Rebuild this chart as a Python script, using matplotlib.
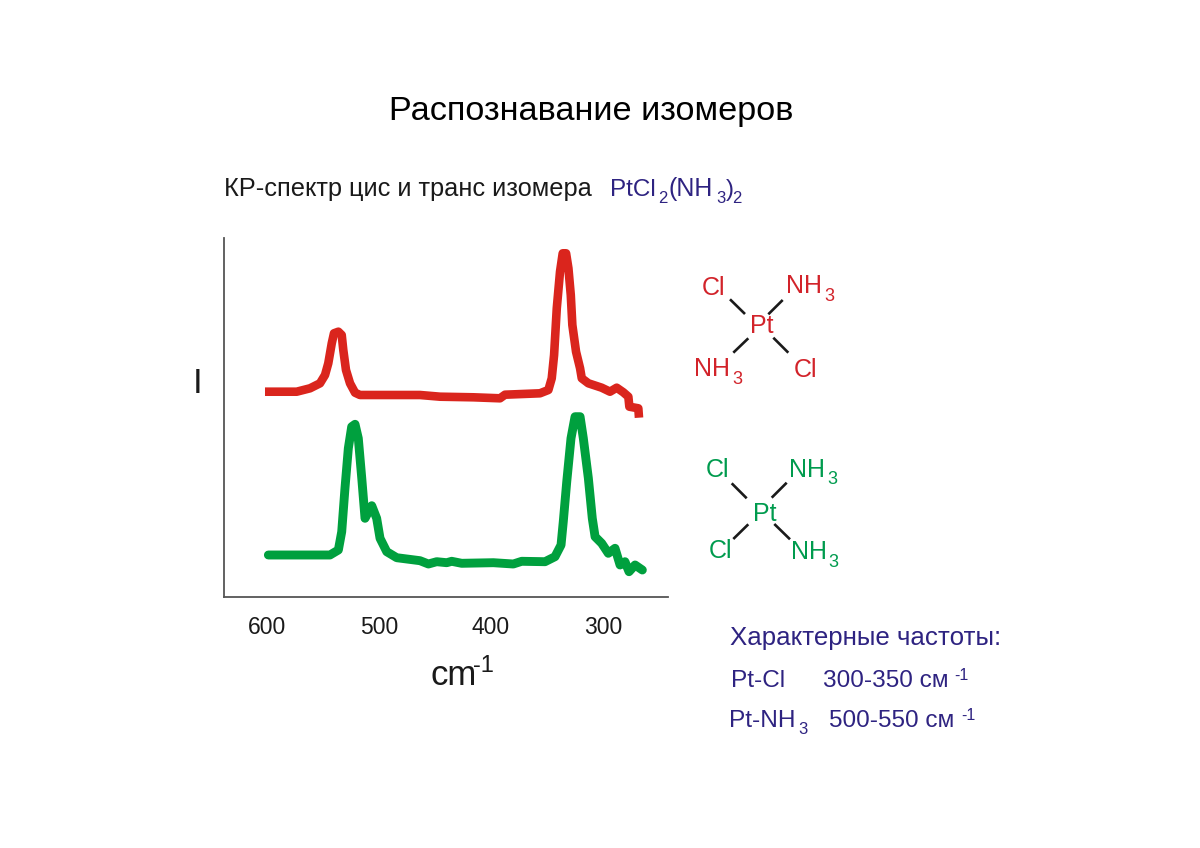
import matplotlib
matplotlib.use('Agg')
import matplotlib.pyplot as plt

plt.rcParams['font.family'] = ['Liberation Sans', 'DejaVu Sans']

# spectra: wavenumber (cm-1), intensity (arb.)
trans_w = [601.8, 573.5, 561.6, 552.7, 548.2, 545.3, 542.2, 540.2, 536.3, 533.3, 531.9, 529.5, 525.9,
           521.4, 517.0, 490.2, 463.4, 445.5, 415.8, 392.0, 387.5, 356.3, 348.8, 345.8, 343.7, 341.3,
           338.4, 336.0, 333.0, 330.9, 328.8, 327.4, 324.1, 320.5, 319.0, 313.1, 301.2, 293.8, 287.8,
           281.9, 277.4, 276.5, 268.5, 267.9]
trans_i = [205.3, 205.3, 208.7, 213.7, 222, 233.7, 253.7, 263.7, 265.3, 262, 247, 227, 213.7,
           204.3, 202, 202, 202, 200.3, 199.7, 198.7, 202.3, 203.7, 207, 218.7, 242, 288.7,
           325.3, 343.7, 343.7, 328.7, 302, 272, 245.3, 228.7, 218.7, 213.7, 209.3, 205.3, 209.3,
           204.7, 200.3, 190.3, 188.7, 179.3]

cis_w = [598.8, 543.8, 536.3, 533.3, 530.4, 527.4, 524.4, 521.4, 518.5, 515.4, 512.5, 506.5, 502.1, 499.1,
         493.1, 484.2, 463.4, 455.9, 448.5, 439.6, 435.1, 426.2, 397.9, 380.1, 372.6, 351.8, 342.9, 337.5,
         335.5, 332.4, 328.6, 325.0, 320.5, 317.6, 313.1, 309.6, 307.1, 301.2, 295.3, 289.3, 284.8, 280.4,
         276.8, 271.4, 264.9]
cis_i = [42, 42, 47, 65.3, 108.7, 148.7, 170.3, 172.7, 158.7, 118.7, 78.7, 91.3, 78.7, 58.7,
         45.3, 39.3, 36.3, 33, 35.3, 34.3, 35.7, 33.7, 34.3, 33, 35.7, 35.3, 40.3, 52,
         75.3, 115.3, 158.7, 180.3, 180.3, 158.7, 118.7, 78.7, 60.3, 53.7, 43.7, 48.7, 32, 35.3,
         25.3, 32, 27]

x_ticks = [600, 500, 400, 300]

RED = '#DA251D'
GREEN = '#00A03E'
RED_TXT = '#D2232A'
GREEN_TXT = '#009B4E'
NAVY = '#2E2381'
W, H = 1200, 848

fig = plt.figure(figsize=(W / 100, H / 100), dpi=100, facecolor='white')

ax = fig.add_axes([224 / W, 1 - 597 / H, 444 / W, 359 / H])
ax.plot(trans_w, trans_i, color=RED, lw=6.2, solid_joinstyle='round', solid_capstyle='butt')
ax.plot(cis_w, cis_i, color=GREEN, lw=6.4, solid_joinstyle='round', solid_capstyle='round')
ax.set_xlim(638.4, 242)
ax.set_ylim(0, 359)
ax.set_yticks([])
ax.set_xticks(x_ticks)
ax.tick_params(axis='x', length=0, pad=14, labelsize=16.5, labelcolor='#1a1a1a')
for s in ['top', 'right']:
    ax.spines[s].set_visible(False)
for s in ['left', 'bottom']:
    ax.spines[s].set_color('#555555')
    ax.spines[s].set_linewidth(1.3)

# overlay in picture pixels for the annotations
ov = fig.add_axes([0, 0, 1, 1], facecolor='none')
ov.set_xlim(0, W)
ov.set_ylim(H, 0)
ov.axis('off')


def put(x, y, s, size, color='black'):
    ov.text(x, y, s, fontsize=size, color=color, ha='left', va='baseline')


put(389, 120, 'Распознавание изомеров', 24.7)
put(224, 196, 'КР-спектр цис и транс изомера', 18.3, '#1a1a1a')
put(610, 196, 'PtCl', 17.5, NAVY)
put(658, 203, '2', 12, NAVY)
put(668, 196, '(NH', 18, NAVY)
put(716, 203, '3', 12, NAVY)
put(726, 196, ')', 17.5, NAVY)
put(732, 203, '2', 12, NAVY)
put(193, 393, 'I', 25, '#1a1a1a')
put(431, 685, 'cm', 25, '#1a1a1a')
put(473, 672, '-1', 17, '#1a1a1a')

# trans complex
put(702, 295, 'Cl', 18, RED_TXT)
put(786, 293, 'NH', 18, RED_TXT)
put(824, 301, '3', 13, RED_TXT)
put(750, 333, 'Pt', 18, RED_TXT)
put(694, 376, 'NH', 18, RED_TXT)
put(732, 384, '3', 13, RED_TXT)
put(794, 377, 'Cl', 18, RED_TXT)
# cis complex
put(706, 477, 'Cl', 18, GREEN_TXT)
put(789, 477, 'NH', 18, GREEN_TXT)
put(827, 484, '3', 13, GREEN_TXT)
put(753, 521, 'Pt', 18, GREEN_TXT)
put(709, 558, 'Cl', 18, GREEN_TXT)
put(791, 559, 'NH', 18, GREEN_TXT)
put(828, 567, '3', 13, GREEN_TXT)

bonds = [((730, 299.3), (745, 314)), ((782.7, 300), (768.3, 314.3)),
         ((748.3, 338.3), (733.3, 352.7)), ((773.3, 337.7), (788.3, 352.7)),
         ((731.7, 483.3), (746.7, 498.3)), ((786.7, 482.7), (771.7, 497.7)),
         ((748.3, 524.3), (733.3, 539)), ((774.3, 524), (790, 539.3))]
for a, b in bonds:
    ov.plot([a[0], b[0]], [a[1], b[1]], color='#1a1a1a', lw=1.9, solid_capstyle='butt')

put(730, 645, 'Характерные частоты:', 18.6, NAVY)
put(731, 687, 'Pt-Cl', 17.6, NAVY)
put(823, 687, '300-350 см', 17.6, NAVY)
put(954, 680, '-1', 11.5, NAVY)
put(729, 727, 'Pt-NH', 17.6, NAVY)
put(798, 734, '3', 12, NAVY)
put(829, 727, '500-550 см', 17.6, NAVY)
put(961, 720, '-1', 11.5, NAVY)

fig.savefig('out.png', dpi=100)
